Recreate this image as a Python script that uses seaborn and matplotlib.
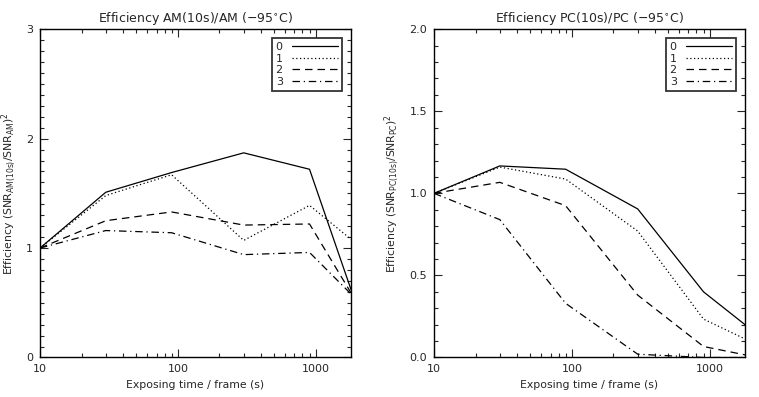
import numpy as np
import pandas as pd
import matplotlib
matplotlib.use("Agg")
import matplotlib.pyplot as plt
import matplotlib.ticker as mticker
import seaborn as sns

sns.set_style("ticks")
plt.rcParams['font.family'] = ['DejaVu Sans']
plt.rcParams['mathtext.default'] = 'regular'

# exposure times (s)
exptime = [10, 30, 90, 300, 900, 1800]

# AM mode efficiency, one list per case
am_0 = [1.0, 1.51, 1.69, 1.87, 1.72, 0.62]
am_1 = [1.0, 1.48, 1.67, 1.07, 1.39, 1.08]
am_2 = [1.0, 1.25, 1.33, 1.21, 1.22, 0.59]
am_3 = [1.0, 1.16, 1.14, 0.94, 0.96, 0.58]

# PC mode efficiency
pc_0 = [1.0, 1.167, 1.147, 0.905, 0.40, 0.20]
pc_1 = [1.0, 1.16, 1.087, 0.77, 0.234, 0.113]
pc_2 = [1.0, 1.067, 0.925, 0.38, 0.067, 0.016]
pc_3 = [1.0, 0.84, 0.33, 0.02, 0.0, 0.0]

labels = ["0", "1", "2", "3"]
dash_map = {"0": "", "1": (1, 2), "2": (6, 4), "3": (6, 3, 1, 3)}


def to_long(series):
    rows = []
    for lab, vals in zip(labels, series):
        for t, v in zip(exptime, vals):
            rows.append({"t": t, "eff": v, "case": lab})
    return pd.DataFrame(rows)


df_am = to_long([am_0, am_1, am_2, am_3])
df_pc = to_long([pc_0, pc_1, pc_2, pc_3])

fig = plt.figure(figsize=(7.59, 3.97), dpi=100)
ax1 = fig.add_axes([0.0527, 0.0995, 0.4098, 0.827])
ax2 = fig.add_axes([0.5718, 0.0995, 0.4098, 0.827])


def draw(ax, df, ymax, major, title, ylabel):
    sns.lineplot(data=df, x="t", y="eff", style="case", dashes=dash_map,
                 color="black", linewidth=0.9, ax=ax, legend=True)
    ax.set_xscale("log")
    ax.set_xlim(10, 1800)
    ax.set_ylim(0, ymax)
    ax.xaxis.set_major_locator(mticker.FixedLocator([10, 100, 1000]))
    ax.xaxis.set_major_formatter(mticker.FixedFormatter(["10", "100", "1000"]))
    ax.xaxis.set_minor_locator(mticker.LogLocator(base=10, subs=np.arange(2, 10)))
    ax.xaxis.set_minor_formatter(mticker.NullFormatter())
    ax.yaxis.set_major_locator(mticker.MultipleLocator(major))
    ax.yaxis.set_minor_locator(mticker.MultipleLocator(0.1))
    if major == 1:
        ax.yaxis.set_major_formatter(mticker.FormatStrFormatter("%d"))
    else:
        ax.yaxis.set_major_formatter(mticker.FormatStrFormatter("%.1f"))
    ax.tick_params(which="both", direction="in", top=True, right=True,
                   labelsize=8, width=0.8, pad=5)
    ax.tick_params(which="major", length=5.5)
    ax.tick_params(which="minor", length=3)
    for s in ax.spines.values():
        s.set_linewidth(1.0)
        s.set_color("black")
    ax.set_title(title, fontsize=9, pad=5)
    ax.set_xlabel("Exposing time / frame (s)", fontsize=7.8, labelpad=4)
    ax.set_ylabel(ylabel, fontsize=7.8, labelpad=6)
    leg = ax.legend(loc="upper right", markerfirst=False, frameon=True,
                    fancybox=False, fontsize=8, handlelength=4.2,
                    handletextpad=0.8, borderpad=0.35, labelspacing=0.15,
                    borderaxespad=0.8)
    leg.get_frame().set_edgecolor("black")
    leg.get_frame().set_linewidth(1.3)
    for h in leg.get_lines():
        h.set_linewidth(0.9)


draw(ax1, df_am, 3, 1, r"Efficiency AM(10s)/AM (−95$^{\circ}$C)",
     r"Efficiency (SNR$_{AM(10s)}$/SNR$_{AM}$)$^2$")
draw(ax2, df_pc, 2, 0.5, r"Efficiency PC(10s)/PC (−95$^{\circ}$C)",
     r"Efficiency (SNR$_{PC(10s)}$/SNR$_{PC}$)$^2$")

fig.savefig("out.png", dpi=100)
